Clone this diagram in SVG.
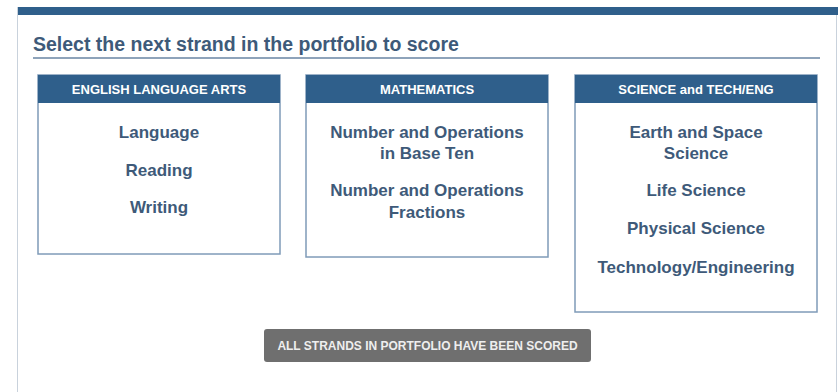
<svg xmlns="http://www.w3.org/2000/svg" width="838" height="392" viewBox="0 0 838 392">
<style>
.hdr{fill:#2f5f8b}
.box{fill:#ffffff;stroke:#7f9bb8;stroke-width:1.5}
.ht{font-family:"Liberation Sans",Arial,sans-serif;font-weight:bold;font-size:13px;fill:#ffffff;text-anchor:middle}
.it{font-family:"Liberation Sans",Arial,sans-serif;font-weight:bold;font-size:17px;fill:#3e5a79;text-anchor:middle}
</style>
<rect width="838" height="392" fill="#ffffff"/>
<g id="panel">
<rect x="17" y="7" width="821" height="8" fill="#2f5f8b"/>
<line x1="17.5" y1="7" x2="17.5" y2="392" stroke="#c9d2dc" stroke-width="1"/>
<line x1="836.5" y1="15" x2="836.5" y2="392" stroke="#c9d2dc" stroke-width="1"/>
<text x="33" y="51" font-family="Liberation Sans,Arial,sans-serif" font-weight="bold" font-size="19.5" fill="#3e5a79">Select the next strand in the portfolio to score</text>
<line x1="33" y1="58" x2="820" y2="58" stroke="#8ea3ba" stroke-width="2"/>
</g>
<g id="ela">
<rect class="box" x="38" y="75" width="242" height="179"/>
<rect class="hdr" x="38" y="75" width="242" height="28"/>
<text class="ht" x="159" y="94">ENGLISH LANGUAGE ARTS</text>
<text class="it" x="159" y="138">Language</text>
<text class="it" x="159" y="176">Reading</text>
<text class="it" x="159" y="213">Writing</text>
</g>
<g id="math">
<rect class="box" x="306" y="75" width="242" height="182"/>
<rect class="hdr" x="306" y="75" width="242" height="28"/>
<text class="ht" x="427" y="94">MATHEMATICS</text>
<text class="it" x="427" y="138">Number and Operations</text>
<text class="it" x="427" y="159">in Base Ten</text>
<text class="it" x="427" y="196">Number and Operations</text>
<text class="it" x="427" y="218">Fractions</text>
</g>
<g id="science">
<rect class="box" x="575" y="75" width="242" height="237"/>
<rect class="hdr" x="575" y="75" width="242" height="28"/>
<text class="ht" x="696" y="94">SCIENCE and TECH/ENG</text>
<text class="it" x="696" y="138">Earth and Space</text>
<text class="it" x="696" y="159">Science</text>
<text class="it" x="696" y="196">Life Science</text>
<text class="it" x="696" y="234">Physical Science</text>
<text class="it" x="696" y="273">Technology/Engineering</text>
</g>
<g id="button">
<rect x="264" y="329" width="327" height="33" rx="3" fill="#6f6f6f"/>
<text x="427.5" y="350" font-family="Liberation Sans,Arial,sans-serif" font-weight="bold" font-size="12" fill="#eeeeee" text-anchor="middle">ALL STRANDS IN PORTFOLIO HAVE BEEN SCORED</text>
</g>
<g id="connectors"/>
</svg>
